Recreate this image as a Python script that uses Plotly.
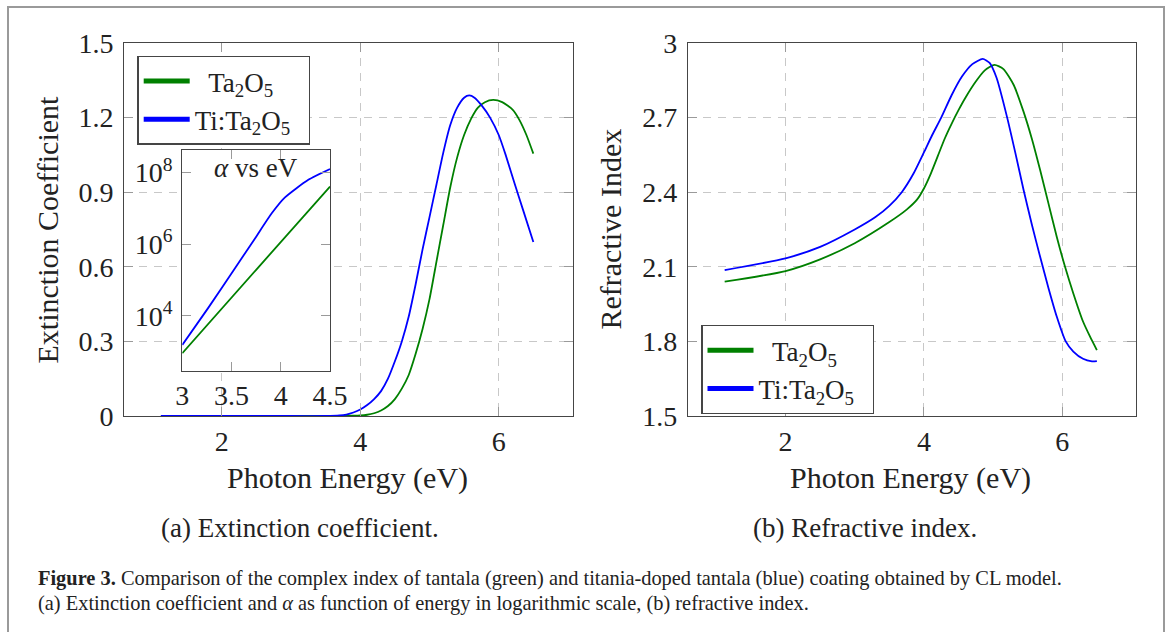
import plotly.graph_objects as go

# ---- data ----
# (a) extinction coefficient k vs photon energy
ext_green_ev = [1.12, 2.0, 3.0, 3.6, 3.9, 4.0, 4.1, 4.2, 4.3, 4.4, 4.5, 4.6, 4.7, 4.8,
                4.9, 5.0, 5.1, 5.2, 5.3, 5.4, 5.5, 5.6, 5.7, 5.8, 5.92, 6.05, 6.2,
                6.3, 6.4, 6.5]
ext_green_k = [0, 0, 0, 0, 0.001, 0.002, 0.005, 0.011, 0.022, 0.040, 0.068, 0.11, 0.165,
               0.25, 0.35, 0.47, 0.62, 0.77, 0.92, 1.04, 1.13, 1.195, 1.24, 1.262, 1.271,
               1.262, 1.232, 1.19, 1.13, 1.055]
ext_blue_ev = [1.12, 2.0, 3.0, 3.5, 3.7, 3.8, 3.9, 4.0, 4.1, 4.2, 4.3, 4.4, 4.5, 4.6,
               4.7, 4.8, 4.9, 5.0, 5.1, 5.2, 5.3, 5.4, 5.5, 5.575, 5.65, 5.75, 5.875,
               6.0, 6.1, 6.235, 6.35, 6.5]
ext_blue_k = [0, 0, 0, 0, 0.002, 0.006, 0.014, 0.026, 0.044, 0.068, 0.10, 0.15, 0.22,
              0.30, 0.40, 0.53, 0.67, 0.80, 0.93, 1.06, 1.17, 1.24, 1.28, 1.289, 1.28,
              1.25, 1.20, 1.13, 1.05, 0.93, 0.83, 0.70]

# inset: alpha vs eV (log scale)
alpha_green_ev = [3.0, 3.75, 4.5]
alpha_green = [9.1e2, 1.93e5, 4.07e7]
alpha_blue_ev = [3.0, 3.26, 3.535, 3.74, 3.91, 4.04, 4.28, 4.5]
alpha_blue = [1.55e3, 1.62e4, 2.14e5, 1.48e6, 7.4e6, 2.0e7, 6.3e7, 1.26e8]

# (b) refractive index n vs photon energy
ref_green_ev = [1.12, 2.0, 2.5, 3.0, 3.5, 3.75, 3.9, 4.0, 4.1, 4.2, 4.3, 4.4, 4.5, 4.6,
                4.75, 4.88, 5.02, 5.15, 5.3, 5.44, 5.56, 5.68, 5.8, 5.92, 6.04, 6.16,
                6.3, 6.4, 6.5]
ref_green_n = [2.040, 2.083, 2.13, 2.195, 2.28, 2.33, 2.37, 2.415, 2.475, 2.545, 2.615,
               2.675, 2.73, 2.78, 2.845, 2.89, 2.912, 2.895, 2.83, 2.724, 2.615, 2.489,
               2.355, 2.221, 2.10, 1.993, 1.88, 1.82, 1.765]
ref_blue_ev = [1.12, 2.0, 2.5, 3.0, 3.3, 3.5, 3.68, 3.85, 4.0, 4.12, 4.25, 4.4, 4.55,
               4.7, 4.85, 4.95, 5.05, 5.2, 5.32, 5.44, 5.56, 5.68, 5.8, 5.92, 6.05,
               6.16, 6.3, 6.43, 6.5]
ref_blue_n = [2.087, 2.134, 2.18, 2.25, 2.30, 2.345, 2.40, 2.475, 2.56, 2.63, 2.70,
              2.79, 2.865, 2.915, 2.936, 2.92, 2.86, 2.704, 2.56, 2.41, 2.27, 2.14,
              2.015, 1.90, 1.80, 1.759, 1.73, 1.72, 1.721]

# legend labels (non-breaking spaces centre the shorter label like the original)
series_names = ["\u00a0\u00a0Ta<sub>2</sub>O<sub>5</sub>",
                "Ti:Ta<sub>2</sub>O<sub>5</sub>\u00a0\u00a0"]
series_colors = ["#008000", "#0000ff"]

W, H = 1171, 632
SERIF = "Liberation Serif"
TXT = "#222222"


def px(x):
    return x / W


def py(y):
    return 1 - y / H


fig = go.Figure()

# main curves
for xs, ys, col, ax in [
    (ext_green_ev, ext_green_k, series_colors[0], ("x", "y")),
    (ext_blue_ev, ext_blue_k, series_colors[1], ("x", "y")),
    (ref_green_ev, ref_green_n, series_colors[0], ("x2", "y2")),
    (ref_blue_ev, ref_blue_n, series_colors[1], ("x2", "y2")),
    (alpha_green_ev, alpha_green, series_colors[0], ("x3", "y3")),
    (alpha_blue_ev, alpha_blue, series_colors[1], ("x3", "y3")),
]:
    fig.add_trace(go.Scatter(
        x=xs, y=ys, mode="lines", xaxis=ax[0], yaxis=ax[1],
        line=dict(color=col, width=1.8, shape="spline", smoothing=0.6),
        showlegend=False, hoverinfo="skip",
    ))

# legend-only entries (thick samples like the original)
for leg, ax in [("legend", ("x", "y")), ("legend2", ("x2", "y2"))]:
    for name, col in zip(series_names, series_colors):
        fig.add_trace(go.Scatter(
            x=[None], y=[None], mode="lines", name=name, legend=leg,
            xaxis=ax[0], yaxis=ax[1], line=dict(color=col, width=5),
        ))

frame = dict(
    showline=True, linecolor="#454545", linewidth=1.3, mirror="allticks",
    ticks="inside", ticklen=9, tickcolor="#9a9a9a", tickwidth=1,
    showgrid=True, gridcolor="#c8c8c8", griddash="8px,7px", gridwidth=1,
    zeroline=False, automargin=False,
    tickfont=dict(size=28, family=SERIF, color=TXT),
)

left_dom = [px(124.2), px(572.8)]
right_dom = [px(688), px(1136.3)]
y_dom = [py(416), py(43)]

legend_style = dict(xanchor="left", yanchor="top", bgcolor="white",
                    bordercolor="#454545", borderwidth=1.3,
                    font=dict(size=27, family=SERIF, color=TXT), itemwidth=46,
                    tracegroupgap=0)

fig.update_layout(
    width=W, height=H,
    margin=dict(l=0, r=0, t=0, b=0, pad=0, autoexpand=False),
    paper_bgcolor="white", plot_bgcolor="white",
    font=dict(family=SERIF, color=TXT),
    xaxis=dict(frame, domain=left_dom, range=[0.59, 7.07], tickvals=[2, 4, 6],
               anchor="y", ticklabelstandoff=0),
    yaxis=dict(frame, domain=y_dom, range=[0, 1.5], tickvals=[0, 0.3, 0.6, 0.9, 1.2, 1.5],
               ticktext=["0", "0.3", "0.6", "0.9", "1.2", "1.5"], anchor="x",
               ticklabelstandoff=4),
    xaxis2=dict(frame, domain=right_dom, range=[0.59, 7.07], tickvals=[2, 4, 6],
                anchor="y2", ticklabelstandoff=0),
    yaxis2=dict(frame, domain=y_dom, range=[1.5, 3.0], tickvals=[1.5, 1.8, 2.1, 2.4, 2.7, 3.0],
                ticktext=["1.5", "1.8", "2.1", "2.4", "2.7", "3"], anchor="x2",
                ticklabelstandoff=4),
    xaxis3=dict(frame, domain=[px(182.3), px(330)], range=[3, 4.5], showgrid=False,
                tickvals=[3, 3.5, 4, 4.5], ticktext=["3", "3.5", "4", "4.5"],
                anchor="y3", ticklabelstandoff=0),
    yaxis3=dict(frame, domain=[py(370.7), py(150)], type="log", range=[2.47, 8.63],
                showgrid=False, tickvals=[1e4, 1e6, 1e8],
                ticktext=["10<sup>4</sup>", "10<sup>6</sup>", "10<sup>8</sup>"],
                anchor="x3", ticklabelstandoff=3),
    legend=dict(legend_style, x=px(137.4), y=py(55.7)),
    legend2=dict(legend_style, x=px(701.2), y=py(325)),
)

# white backing for the inset so the main grid does not show through
fig.add_shape(type="rect", xref="x3", yref="y3", x0=3, x1=4.5, y0=2.47, y1=8.63,
              fillcolor="white", line=dict(width=0), layer="below")

# outer figure border
fig.add_shape(type="rect", xref="paper", yref="paper", x0=px(8), x1=px(1164),
              y0=-0.05, y1=py(7), line=dict(color="#9a9a9a", width=2))

ann = [
    ("Extinction Coefficient", 47, 229.5, -90, 30),
    ("Refractive Index", 610, 229.5, -90, 30),
    ("Photon Energy (eV)", 347, 477.5, 0, 30),
    ("Photon Energy (eV)", 911, 477.5, 0, 30),
    ("(a) Extinction coefficient.", 300, 528, 0, 27),
    ("(b) Refractive index.", 865, 528, 0, 27),
    ("<i>α</i> vs eV", 256, 168, 0, 27),
]
for text, x, y, ang, size in ann:
    fig.add_annotation(text=text, x=px(x), y=py(y), xref="paper", yref="paper",
                       showarrow=False, textangle=ang, xanchor="center", yanchor="middle",
                       font=dict(size=size, family=SERIF, color=TXT))

caption = [
    "<b>Figure 3.</b> Comparison of the complex index of tantala (green) and titania-doped "
    "tantala (blue) coating obtained by CL model.",
    "(a) Extinction coefficient and <i>α</i> as function of energy in logarithmic scale, "
    "(b) refractive index.",
]
for i, line in enumerate(caption):
    fig.add_annotation(text=line, x=px(36), y=py(578 + 25 * i), xref="paper", yref="paper",
                       showarrow=False, xanchor="left", yanchor="middle",
                       font=dict(size=20.4, family=SERIF, color=TXT))

fig.write_html(
    "out.html",
    config={"displayModeBar": False},
    post_script="document.body.style.margin='0';document.body.style.overflow='hidden';",
)
